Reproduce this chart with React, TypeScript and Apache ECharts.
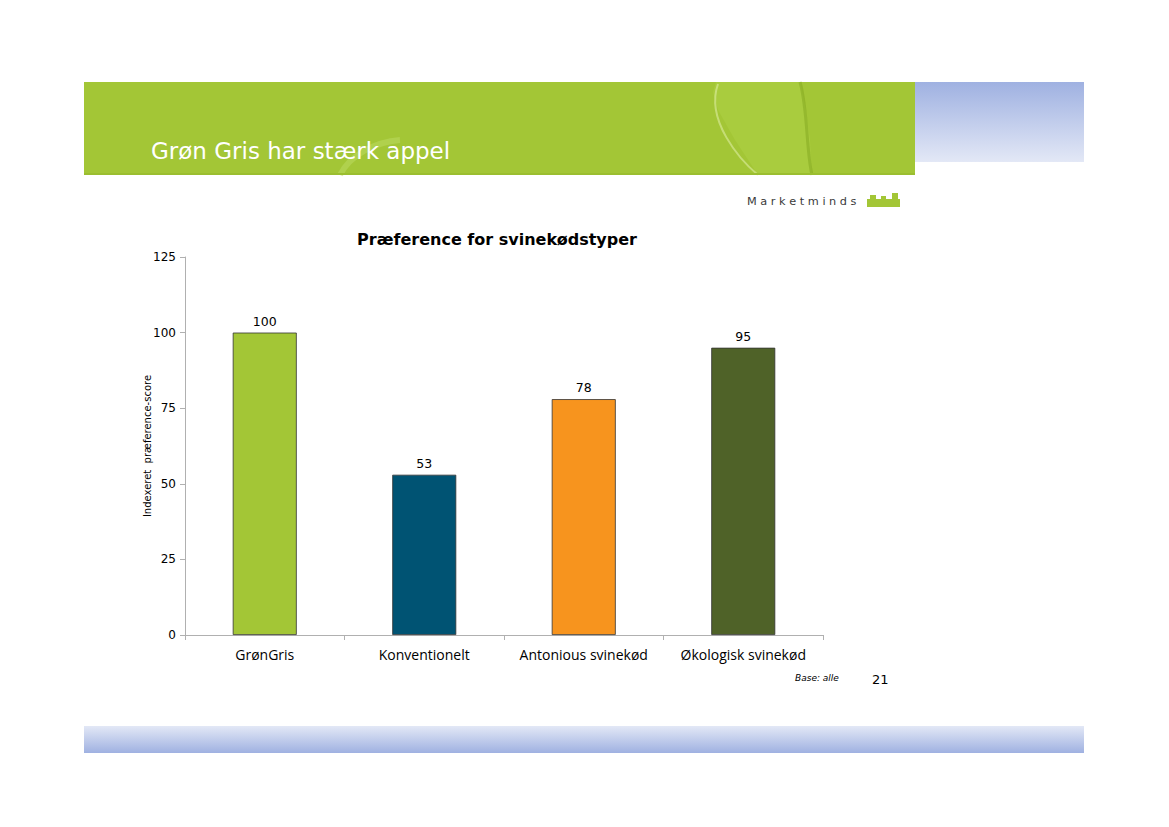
import React, { useEffect, useRef } from "react";
import * as echarts from "echarts";

const categories = ["GrønGris", "Konventionelt", "Antonious svinekød", "Økologisk svinekød"];
const values = [100, 53, 78, 95];
const barColors = ["#A3C636", "#005373", "#F7941E", "#4F6228"];
const chartTitle = "Præference for svinekødstyper";
const yAxisName = "Indexeret  præference-score";
const slideTitle = "Grøn Gris har stærk appel";

export default function App() {
  const ref = useRef<HTMLDivElement>(null);
  useEffect(() => {
    if (!ref.current) return;
    const chart = echarts.init(ref.current, null, { renderer: "svg" });
    chart.setOption({
      animation: false,
      backgroundColor: "#ffffff",
      title: {
        text: chartTitle,
        left: 492,
        textAlign: "center",
        top: 226,
        textStyle: { fontFamily: "DejaVu Sans", fontSize: 16, fontWeight: "bold", color: "#000" },
      },
      grid: { left: 185, right: 346, top: 257, bottom: 192 },
      xAxis: {
        type: "category",
        data: categories,
        axisLine: { lineStyle: { color: "#b0b0b0" } },
        axisTick: { show: true, length: 5, lineStyle: { color: "#b0b0b0" } },
        axisLabel: { interval: 0, hideOverlap: false, fontFamily: "Open Sans", fontSize: 14, color: "#000", margin: 12 },
      },
      yAxis: {
        type: "value",
        min: 0,
        max: 125,
        interval: 25,
        name: yAxisName,
        nameLocation: "middle",
        nameGap: 33,
        nameMoveOverlap: false,
        nameTextStyle: { fontFamily: "DejaVu Sans", fontSize: 10, color: "#000" },
        axisLine: { show: true, lineStyle: { color: "#b0b0b0" } },
        axisTick: { show: true, length: 5, lineStyle: { color: "#b0b0b0" } },
        splitLine: { show: false },
        axisLabel: { fontFamily: "DejaVu Sans", fontSize: 12, color: "#000", margin: 9 },
      },
      series: [
        {
          type: "bar",
          barWidth: 64,
          data: values.map((v, i) => ({
            value: v,
            itemStyle: { color: barColors[i], borderColor: "#333", borderWidth: 0.8 },
          })),
          label: {
            show: true,
            position: "top",
            distance: 5,
            fontFamily: "DejaVu Sans",
            fontSize: 12.5,
            color: "#000",
          },
        },
      ],
      graphic: [
        {
          type: "rect",
          shape: { x: 84, y: 82, width: 831, height: 93 },
          style: { fill: "#A3C636" },
          silent: true,
        },
        {
          type: "polygon",
          shape: {
            points: [
              [716, 82], [800, 82], [806, 110], [810, 140], [812, 175],
              [758, 175], [735, 140], [718, 110], [713, 92],
            ],
          },
          style: { fill: "#A9CC3E" },
          silent: true,
        },
        {
          type: "bezierCurve",
          shape: { x1: 718, y1: 84, x2: 758, y2: 175, cpx1: 705, cpy1: 120, cpx2: 740, cpy2: 160 },
          style: { stroke: "rgba(225,240,170,0.55)", lineWidth: 2, fill: "none" },
          silent: true,
        },
        {
          type: "bezierCurve",
          shape: { x1: 800, y1: 82, x2: 812, y2: 175, cpx1: 808, cpy1: 110, cpx2: 806, cpy2: 150 },
          style: { stroke: "rgba(130,165,30,0.5)", lineWidth: 3, fill: "none" },
          silent: true,
        },
        {
          type: "bezierCurve",
          shape: { x1: 340, y1: 175, x2: 400, y2: 140, cpx1: 350, cpy1: 155, cpx2: 375, cpy2: 142 },
          style: { stroke: "rgba(190,220,100,0.5)", lineWidth: 6, fill: "none" },
          silent: true,
        },
        {
          type: "rect",
          shape: { x: 84, y: 173, width: 831, height: 2 },
          style: { fill: "#9BBE30" },
          silent: true,
        },
        {
          type: "rect",
          shape: { x: 915, y: 82, width: 169, height: 80 },
          style: {
            fill: new echarts.graphic.LinearGradient(0, 0, 0, 1, [
              { offset: 0, color: "#9FB1E1" },
              { offset: 1, color: "#E3E8F6" },
            ]),
          },
          silent: true,
        },
        {
          type: "text",
          x: 151,
          y: 151,
          style: {
            text: slideTitle,
            fill: "#ffffff",
            fontFamily: "DejaVu Sans",
            fontSize: 23,
            textVerticalAlign: "middle",
          },
          silent: true,
        },
        {
          type: "text",
          x: 747,
          y: 201,
          style: {
            text: "M a r k e t m i n d s",
            fill: "#3a3a3a",
            fontFamily: "DejaVu Sans",
            fontSize: 11.3,
            textVerticalAlign: "middle",
          },
          silent: true,
        },
        {
          type: "group",
          children: [
            { type: "rect", shape: { x: 867, y: 199, width: 33, height: 8 }, style: { fill: "#A3C636" } },
            { type: "rect", shape: { x: 870, y: 195, width: 6, height: 5 }, style: { fill: "#A3C636" } },
            { type: "rect", shape: { x: 881, y: 196, width: 5, height: 4 }, style: { fill: "#A3C636" } },
            { type: "rect", shape: { x: 892, y: 193, width: 6, height: 6 }, style: { fill: "#A3C636" } },
          ],
          silent: true,
        },
        {
          type: "text",
          x: 795,
          y: 678,
          style: {
            text: "Base: alle",
            fill: "#000",
            fontFamily: "DejaVu Sans",
            fontSize: 9,
            fontStyle: "italic",
            textVerticalAlign: "middle",
          },
          silent: true,
        },
        {
          type: "text",
          x: 872,
          y: 679,
          style: {
            text: "21",
            fill: "#000",
            fontFamily: "DejaVu Sans",
            fontSize: 13,
            textVerticalAlign: "middle",
          },
          silent: true,
        },
        {
          type: "rect",
          shape: { x: 84, y: 726, width: 1000, height: 27 },
          style: {
            fill: new echarts.graphic.LinearGradient(0, 0, 0, 1, [
              { offset: 0, color: "#E3E8F6" },
              { offset: 1, color: "#9FB1E1" },
            ]),
          },
          silent: true,
        },
      ],
    });
    return () => chart.dispose();
  }, []);
  return (
    <div
      ref={ref}
      style={{ position: "fixed", left: 0, top: 0, width: 1169, height: 827 }}
    />
  );
}
